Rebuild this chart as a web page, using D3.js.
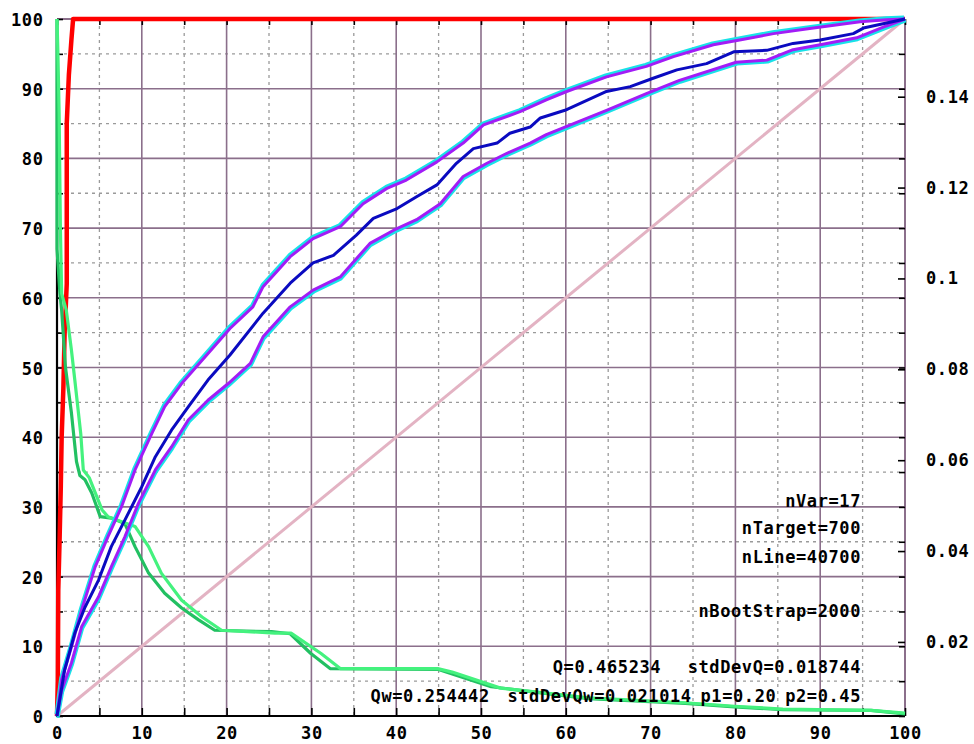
<!DOCTYPE html>
<html lang="en">
<head>
<meta charset="utf-8">
<title>lift curve</title>
<script src="https://d3js.org/d3.v7.min.js"></script>
<style>
  body { margin: 0; background: #fff; }
  svg text { font-family: "DejaVu Sans Mono", monospace; font-weight: bold; font-size: 17px; letter-spacing: 0.6px; fill: #000; }
</style>
</head>
<body>
<div id="chart"></div>
<script>
// tick labels
var xTicks = [0, 10, 20, 30, 40, 50, 60, 70, 80, 90, 100];
var yTicks = [0, 10, 20, 30, 40, 50, 60, 70, 80, 90, 100];
var rightTicks = [0.02, 0.04, 0.06, 0.08, 0.1, 0.12, 0.14];
var rightLabels = ["0.02", "0.04", "0.06", "0.08", "0.1", "0.12", "0.14"];

// curves as [x, y]
var redCurve = [[0,0],[0.1,5],[0.15,18],[0.3,25],[0.45,33],[0.55,40],[0.75,47],[0.9,55],[1.15,62],
  [1.15,85],[1.4,92],[1.7,97],[1.9,100],[100,100]];

var blueMid = [[0,0],[0.9,6.6],[2.1,11.9],[3.3,15.6],[4.9,19.5],[6.4,24.3],[8.0,28.1],[10,32.9],
  [11.6,37.2],[13.5,41],[15.5,44.4],[17.8,48.2],[20.4,51.8],[24.3,57.8],[27.5,62.1],[30.2,65],
  [32.6,66.1],[35.3,69],[37.3,71.4],[40.1,72.8],[42.4,74.5],[44.8,76.2],[47.1,79.3],[49.1,81.4],
  [51.9,82.2],[53.4,83.6],[55.8,84.5],[57,85.8],[59.9,86.9],[64.8,89.6],[67.6,90.3],[70.3,91.5],
  [73.1,92.7],[76.6,93.6],[79.8,95.3],[83.7,95.5],[86.8,96.5],[90,97],[93.9,97.9],[95.1,98.7],[100,100]];

var upperBand = [[0,0],[0.55,5.2],[1.7,9.9],[2.9,15.2],[4.5,21.4],[6.0,25.7],[7.6,30],[9.2,35.3],
  [11.2,40.6],[12.7,44.4],[14.7,47.7],[20.4,55.6],[23.1,58.7],[24.3,61.6],[27.5,65.9],[30.2,68.5],
  [33.4,70.2],[36.1,73.5],[38.9,75.7],[41.2,76.9],[44.8,79.5],[47.9,82.2],[50.3,84.8],[54.6,86.7],
  [57.7,88.4],[60.1,89.6],[64.8,91.7],[69.5,93.2],[72.7,94.6],[77.4,96.3],[80.5,97],[84.5,97.9],
  [89.2,98.7],[94.7,99.6],[97.8,99.9],[100,100]];

var lowerBand = [[0,0],[0.55,3.7],[1.7,7.6],[2.9,12.8],[4.9,17.1],[6.4,21.4],[8.0,25.7],[9.6,30.5],
  [11.6,35.3],[13.5,38.6],[15.5,42.5],[17.8,45.3],[20.2,47.7],[22.8,50.6],[24.3,54.4],[27.5,58.7],
  [30.2,61.1],[33.4,63],[36.9,67.8],[39.7,69.7],[42.4,71.2],[45.2,73.5],[47.9,77.4],[50.7,79.3],
  [53,80.7],[55.8,82.2],[57.7,83.4],[64.8,86.9],[69.5,89.3],[73.4,91.2],[80.1,93.8],[83.7,94.1],
  [86.8,95.6],[90,96.3],[94.3,97.3],[97.8,99],[100,100]];

var greenDark = [[0,100],[0,67],[0.35,60.6],[0.55,58.2],[1.0,50],[1.7,43.5],[2.3,36.5],[2.7,34.5],
  [3.3,33.9],[4.1,32],[5.1,28.6],[6.4,28.4],[8,27.6],[9.2,24.3],[10.8,20.5],[12.7,17.6],[14.7,15.5],
  [16.7,13.8],[18.6,12.3],[25.3,12.1],[27.5,11.8],[29.9,9.0],[32.2,6.8],[44.9,6.7],[51.2,4.2],
  [62.7,2.5],[74.1,1.8],[79.9,1.3],[85.6,0.9],[96,0.8],[100,0.3]];

var greenLight = [[0,100],[0.1,95.5],[0.25,86.5],[0.4,70],[0.55,60.6],[1.1,58.2],[1.7,52.5],[2.1,48.2],
  [2.8,40.5],[3.1,35.3],[3.8,34.2],[5.3,29.6],[6.0,28.6],[9.2,27.2],[10.8,24.3],[12.3,20.5],[14.7,16.6],
  [17.1,14.2],[19.4,12.3],[25.7,11.9],[27.6,11.9],[31.1,9],[33.4,6.8],[44.9,6.8],[46.6,6.3],[52.3,4],
  [62.7,2.6],[74.1,1.9],[79.9,1.4],[85.6,1.0],[96,0.8],[100,0.4]];

var diagonal = [[0,0],[100,100]];

var notes = ["nVar=17", "nTarget=700", "nLine=40700", "nBootStrap=2000"];
var statQ = "Q=0.465234   stdDevQ=0.018744";
var statQw = "Qw=0.254442  stdDevQw=0.021014 p1=0.20 p2=0.45";

var width = 974, height = 744;
var pLeft = 57, pRight = 905, pTop = 19, pBottom = 716;

var svg = d3.select("#chart").append("svg")
  .attr("width", width).attr("height", height)
  .style("background", "#fff");

var x = d3.scaleLinear().domain([0, 100]).range([pLeft, pRight]);
var y = d3.scaleLinear().domain([0, 100]).range([pBottom, pTop]);
var yR = d3.scaleLinear().domain([0.0037, 0.1571]).range([pBottom, pTop]);

var majorColor = "#8b6f8b";
var minors = d3.range(5, 100, 10);
var majors = d3.range(10, 100, 10);

// grid
var grid = svg.append("g");
grid.selectAll(".vmin").data(minors).enter().append("line")
  .attr("x1", d => x(d)).attr("x2", d => x(d)).attr("y1", pTop).attr("y2", pBottom)
  .attr("stroke", "#9a9a9a").attr("stroke-width", 1.3).attr("stroke-dasharray", "3,4");
grid.selectAll(".hmin").data(minors).enter().append("line")
  .attr("y1", d => y(d)).attr("y2", d => y(d)).attr("x1", pLeft).attr("x2", pRight)
  .attr("stroke", "#9a9a9a").attr("stroke-width", 1.3).attr("stroke-dasharray", "3,4");
grid.selectAll(".vmaj").data(majors).enter().append("line")
  .attr("x1", d => x(d)).attr("x2", d => x(d)).attr("y1", pTop).attr("y2", pBottom)
  .attr("stroke", majorColor).attr("stroke-width", 1.6);
grid.selectAll(".hmaj").data(majors).enter().append("line")
  .attr("y1", d => y(d)).attr("y2", d => y(d)).attr("x1", pLeft).attr("x2", pRight)
  .attr("stroke", majorColor).attr("stroke-width", 1.6);

// frame: right and top in grid colour, left and bottom black
svg.append("line").attr("x1", pRight).attr("x2", pRight).attr("y1", pTop).attr("y2", pBottom)
  .attr("stroke", majorColor).attr("stroke-width", 2);
svg.append("line").attr("x1", pLeft).attr("x2", pRight).attr("y1", pTop).attr("y2", pTop)
  .attr("stroke", majorColor).attr("stroke-width", 2);

// axes
var all5 = d3.range(0, 101, 5);
var bottomAxis = svg.append("g").attr("transform", "translate(0," + pBottom + ")")
  .call(d3.axisTop(x).tickValues(all5).tickSize(8).tickFormat(""));
var leftAxis = svg.append("g").attr("transform", "translate(" + pLeft + ",0)")
  .call(d3.axisRight(y).tickValues(all5).tickSize(6).tickFormat(""));
var topAxis = svg.append("g").attr("transform", "translate(0," + pTop + ")")
  .call(d3.axisBottom(x).tickValues(all5).tickSize(6).tickFormat(""));
var rightAxis = svg.append("g").attr("transform", "translate(" + pRight + ",0)")
  .call(d3.axisLeft(y).tickValues(all5).tickSize(6).tickFormat(""));
var rightOwn = svg.append("g").attr("transform", "translate(" + pRight + ",0)")
  .call(d3.axisLeft(yR).tickValues(rightTicks).tickSize(7).tickFormat(""));
[bottomAxis, leftAxis, topAxis, rightAxis, rightOwn].forEach(function(a) {
  a.select(".domain").remove();
  a.selectAll(".tick line").attr("stroke", "#000").attr("stroke-width", 1.6);
});
svg.append("line").attr("x1", pLeft).attr("x2", pLeft).attr("y1", pTop).attr("y2", pBottom + 1)
  .attr("stroke", "#000").attr("stroke-width", 2.2);
svg.append("line").attr("x1", pLeft - 1).attr("x2", pRight).attr("y1", pBottom).attr("y2", pBottom)
  .attr("stroke", "#000").attr("stroke-width", 2.2);

// tick labels
svg.append("g").selectAll("text").data(xTicks).enter().append("text")
  .attr("x", d => x(d) + 0.5).attr("y", 739).attr("text-anchor", "middle").text(d => d);
svg.append("g").selectAll("text").data(yTicks).enter().append("text")
  .attr("x", 43.5).attr("y", d => y(d) + 7).attr("text-anchor", "end").text(d => d);
svg.append("g").selectAll("text").data(rightTicks).enter().append("text")
  .attr("x", 926).attr("y", d => yR(d) + 6).attr("text-anchor", "start")
  .text((d, i) => rightLabels[i]);

// curves
var line = d3.line().x(d => x(d[0])).y(d => y(d[1]));
function drawCurve(data, color, w, dx, dy) {
  svg.append("path").datum(data)
    .attr("d", line)
    .attr("fill", "none")
    .attr("stroke", color)
    .attr("stroke-width", w)
    .attr("stroke-linejoin", "round")
    .attr("transform", "translate(" + (dx || 0) + "," + (dy || 0) + ")");
}
drawCurve(diagonal, "#e3b3c3", 3);
drawCurve(redCurve, "#ff0000", 4.5);
drawCurve(greenDark, "#22c062", 3.2);
drawCurve(greenLight, "#44f27e", 3.2);
drawCurve(upperBand, "#18e2e8", 3.2, -0.9, -1.8);
drawCurve(lowerBand, "#18e2e8", 3.2, 0.9, 1.8);
drawCurve(upperBand, "#a21cf6", 3);
drawCurve(lowerBand, "#a21cf6", 3);
drawCurve(blueMid, "#0a0ac0", 3);

// annotations
var noteY = [507, 534, 563, 617];
svg.append("g").selectAll("text").data(notes).enter().append("text")
  .attr("x", 861).attr("y", (d, i) => noteY[i]).attr("text-anchor", "end").text(d => d);
svg.append("text").attr("x", 861).attr("y", 673).attr("text-anchor", "end")
  .attr("xml:space", "preserve").style("white-space", "pre").style("word-spacing", "-2px").text(statQ);
svg.append("text").attr("x", 861).attr("y", 702).attr("text-anchor", "end")
  .attr("xml:space", "preserve").style("white-space", "pre").style("word-spacing", "-2px").text(statQw);
</script>
</body>
</html>
